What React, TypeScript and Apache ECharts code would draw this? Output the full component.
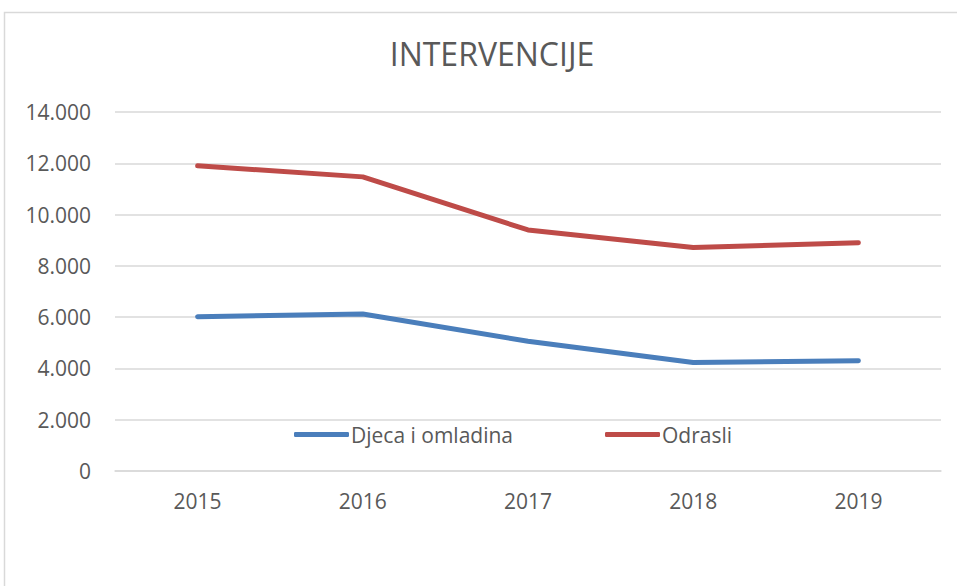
import React, { useEffect, useRef } from "react";
import * as echarts from "echarts";

const years = ["2015", "2016", "2017", "2018", "2019"];
const djecaOmladina = [6020, 6120, 5060, 4230, 4300];
const odrasli = [11900, 11470, 9400, 8720, 8900];
const seriesNames = ["Djeca i omladina", "Odrasli"];
const titleText = "INTERVENCIJE";

const FONT = "'Open Sans', 'Noto Sans', sans-serif";
const TXT = "#595959";

export default function App() {
  const ref = useRef<HTMLDivElement>(null);
  useEffect(() => {
    if (!ref.current) return;
    const chart = echarts.init(ref.current, null, { renderer: "svg" });
    chart.setOption({
      animation: false,
      backgroundColor: "#ffffff",
      textStyle: { fontFamily: FONT },
      title: {
        text: titleText,
        left: 487,
        textAlign: "center",
        top: 32,
        textStyle: { fontFamily: FONT, fontSize: 32, fontWeight: "normal", color: TXT },
      },
      graphic: [
        {
          type: "rect",
          shape: { x: 4.5, y: 12.5, width: 1000, height: 1000 },
          style: { fill: "none", stroke: "#d9d9d9", lineWidth: 1.5 },
          silent: true,
          z: -1,
        },
      ],
      legend: {
        data: seriesNames,
        top: 424,
        left: 294,
        padding: 0,
        itemWidth: 55,
        itemHeight: 5,
        itemGap: 92,
        icon: "roundRect",
        textStyle: { fontFamily: FONT, fontSize: 21, color: TXT, padding: [0, 0, 0, -3] },
      },
      grid: { left: 115, right: 16, top: 112, bottom: 115 },
      xAxis: {
        type: "category",
        data: years,
        boundaryGap: true,
        axisLine: { show: true, lineStyle: { color: "#d9d9d9", width: 1.5 } },
        axisTick: { show: false },
        axisLabel: { color: TXT, fontFamily: FONT, fontSize: 21, margin: 19 },
      },
      yAxis: {
        type: "value",
        min: 0,
        max: 14000,
        interval: 2000,
        axisLine: { show: false },
        axisTick: { show: false },
        splitLine: { lineStyle: { color: "#d9d9d9", width: 1.5 } },
        axisLabel: {
          color: TXT,
          fontFamily: FONT,
          fontSize: 21,
          margin: 24,
          formatter: (v: number) => v.toString().replace(/\B(?=(\d{3})+(?!\d))/g, "."),
        },
      },
      series: [
        {
          name: seriesNames[0],
          type: "line",
          data: djecaOmladina,
          symbol: "none",
          color: "#4a7ebb",
          lineStyle: { width: 5, cap: "round", join: "round", color: "#4a7ebb" },
        },
        {
          name: seriesNames[1],
          type: "line",
          data: odrasli,
          symbol: "none",
          color: "#be4b48",
          lineStyle: { width: 5, cap: "round", join: "round", color: "#be4b48" },
        },
      ],
    });
    return () => chart.dispose();
  }, []);
  return (
    <div
      ref={ref}
      style={{ position: "fixed", left: 0, top: 0, width: 957, height: 586 }}
    />
  );
}
